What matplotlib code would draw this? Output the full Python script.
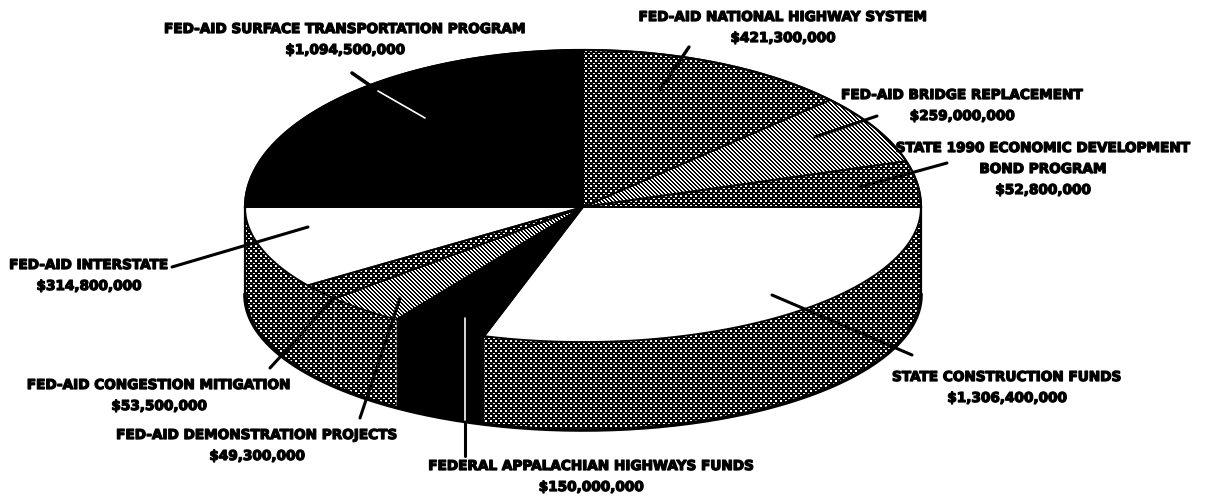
import numpy as np
import matplotlib
matplotlib.use('Agg')
import matplotlib.pyplot as plt
import matplotlib.patheffects as pe
from matplotlib.patches import Polygon

# slices clockwise from the right hand side
names = ['STATE CONSTRUCTION FUNDS', 'FEDERAL APPALACHIAN HIGHWAYS FUNDS',
         'FED-AID DEMONSTRATION PROJECTS', 'FED-AID CONGESTION MITIGATION',
         'FED-AID INTERSTATE', 'FED-AID SURFACE TRANSPORTATION PROGRAM',
         'FED-AID NATIONAL HIGHWAY SYSTEM', 'FED-AID BRIDGE REPLACEMENT',
         'STATE 1990 ECONOMIC DEVELOPMENT\nBOND PROGRAM']
amounts = [1306400000, 150000000, 49300000, 53500000, 314800000,
           1094500000, 421300000, 259000000, 52800000]
# the drawing does not follow the amounts, so spans are read off the picture
spans = [107, 16.5, 13.8, 7.2, 35.5, 90, 47, 26, 17]
top_fill = ['white', 'black', 'stripe', 'dots', 'white', 'black', 'dots', 'stripe', 'dots']
side_fill = ['dots', 'black', 'dots', 'dots', 'dots', None, None, None, None]

fig = plt.figure(figsize=(12.05, 4.99), dpi=100)
ax = fig.add_axes([0, 0, 1, 1])

cx, cy, rx = 583, 207, 338
ry_back, ry_front, depth = 157, 135, 88

yy, xx = np.mgrid[0:499, 0:1205]
patterns = {
    'dots': ((xx % 5 < 2) & (yy % 5 < 2)) | (((xx + 2) % 5 < 2) & (yy % 5 == 3)),
    'stripe': (xx - yy) % 4 < 2,
}


def rim(deg, dy=0):
    a = np.radians(deg)
    r = np.where(np.sin(a) > 0, ry_front, ry_back)
    return np.column_stack([cx + rx * np.cos(a), cy + dy + r * np.sin(a)])


def paint(pts, fill, z):
    if fill in patterns:
        patch = Polygon(pts, closed=True, fc='none', ec='none', zorder=z)
        ax.add_patch(patch)
        im = ax.imshow(patterns[fill], cmap='gray', vmin=0, vmax=1, extent=(0, 1205, 499, 0),
                       interpolation='nearest', aspect='auto', zorder=z)
        im.set_clip_path(patch)
    else:
        ax.add_patch(Polygon(pts, closed=True, fc=fill, ec='none', zorder=z))


edges = np.concatenate([[0], np.cumsum(spans)])
for i in range(len(spans)):
    arc = np.linspace(edges[i], edges[i + 1], 80)
    if side_fill[i]:
        wall = np.vstack([rim(arc), rim(arc[::-1], depth)])
        paint(wall, side_fill[i], 2)
    top = np.vstack([[cx, cy], rim(arc)])
    paint(top, top_fill[i], 3)
    ax.add_patch(Polygon(top, closed=True, fc='none', ec='black', lw=1.3, zorder=4))

# outer edges of the drum
low = np.linspace(0, 180, 200)
ax.plot(*rim(low, depth).T, color='black', lw=2.6, zorder=5)
ax.plot(*rim(np.linspace(180, 360, 200)).T, color='black', lw=1.6, zorder=5)
ax.plot([cx - rx, cx - rx], [cy, cy + depth], color='black', lw=1.6, zorder=5)
ax.plot([cx + rx, cx + rx], [cy, cy + depth], color='black', lw=1.6, zorder=5)

# leader lines, black outside the pie, white across the black slices
leaders = [((912, 355), (772, 295), 'black', 2.2), ((465, 456), (465, 420), 'black', 2.2),
           ((465, 420), (465, 318), 'white', 1.2), ((360, 418), (400, 298), 'black', 2.2),
           ((270, 368), (335, 297), 'black', 2.2), ((172, 267), (308, 227), 'black', 2.2),
           ((352, 73), (378, 91), 'black', 2.6), ((378, 91), (425, 118), 'white', 1.2),
           ((689, 47), (660, 90), 'black', 2.4), ((877, 116), (815, 137), 'black', 2.2),
           ((947, 163), (860, 187), 'black', 2.2)]
for a, b, c, w in leaders:
    ax.plot([a[0], b[0]], [a[1], b[1]], color=c, lw=w, zorder=6, solid_capstyle='round')

label_pos = [(1007, 377), (591, 466), (257, 435), (159, 385), (89, 265),
             (345, 29), (783, 17), (962, 95), (1043, 148)]
for name, amt, (x, y) in zip(names, amounts, label_pos):
    lines = name.split('\n') + ['${:,}'.format(amt)]
    for j, t in enumerate(lines):
        ax.text(x, y + j * 21, t, ha='center', va='center', fontsize=9.8, fontweight='bold',
                family='DejaVu Sans', color='black', zorder=7,
                path_effects=[pe.withStroke(linewidth=0.9, foreground='black')])

ax.set_xlim(0, 1205)
ax.set_ylim(499, 0)
ax.axis('off')
fig.savefig('out.png', dpi=100)
